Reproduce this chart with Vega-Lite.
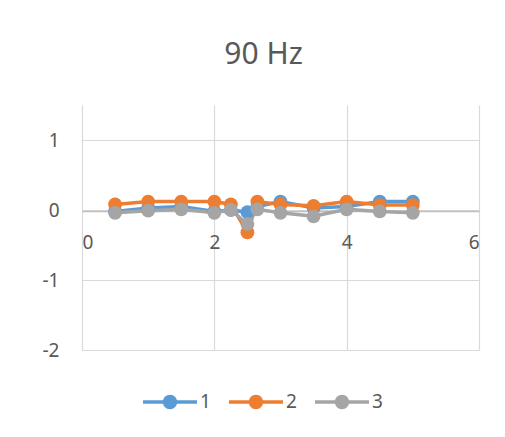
{
  "$schema": "https://vega.github.io/schema/vega-lite/v6.json",
  "width": 397,
  "height": 245,
  "autosize": {"type": "none"},
  "padding": {"left": 82, "top": 105, "right": 26, "bottom": 87},
  "background": "white",
  "title": {"text": "90 Hz", "fontSize": 30, "font": "Noto Sans", "fontWeight": "normal", "color": "#595959", "anchor": "middle", "frame": "group", "dx": -17, "offset": 35},
  "data": {"values": [
    {"s": "1", "x": 0.5, "y": -0.02}, {"s": "1", "x": 1, "y": 0.03}, {"s": "1", "x": 1.5, "y": 0.05}, {"s": "1", "x": 2, "y": -0.02},
    {"s": "1", "x": 2.25, "y": 0.0}, {"s": "1", "x": 2.5, "y": -0.03}, {"s": "1", "x": 2.65, "y": 0.05}, {"s": "1", "x": 3, "y": 0.12},
    {"s": "1", "x": 3.5, "y": 0.03}, {"s": "1", "x": 4, "y": 0.05}, {"s": "1", "x": 4.5, "y": 0.12}, {"s": "1", "x": 5, "y": 0.12},
    {"s": "2", "x": 0.5, "y": 0.08}, {"s": "2", "x": 1, "y": 0.12}, {"s": "2", "x": 1.5, "y": 0.12}, {"s": "2", "x": 2, "y": 0.12},
    {"s": "2", "x": 2.25, "y": 0.08}, {"s": "2", "x": 2.5, "y": -0.32}, {"s": "2", "x": 2.65, "y": 0.12}, {"s": "2", "x": 3, "y": 0.08},
    {"s": "2", "x": 3.5, "y": 0.06}, {"s": "2", "x": 4, "y": 0.12}, {"s": "2", "x": 4.5, "y": 0.07}, {"s": "2", "x": 5, "y": 0.07},
    {"s": "3", "x": 0.5, "y": -0.04}, {"s": "3", "x": 1, "y": -0.01}, {"s": "3", "x": 1.5, "y": 0.01}, {"s": "3", "x": 2, "y": -0.04},
    {"s": "3", "x": 2.25, "y": 0.0}, {"s": "3", "x": 2.5, "y": -0.2}, {"s": "3", "x": 2.65, "y": 0.01}, {"s": "3", "x": 3, "y": -0.04},
    {"s": "3", "x": 3.5, "y": -0.09}, {"s": "3", "x": 4, "y": 0.01}, {"s": "3", "x": 4.5, "y": -0.02}, {"s": "3", "x": 5, "y": -0.04}
  ]},
  "mark": {"type": "line", "strokeWidth": 3.5, "point": {"filled": true, "size": 190, "opacity": 1}},
  "encoding": {
    "x": {"field": "x", "type": "quantitative", "scale": {"domain": [0, 6], "nice": false},
      "axis": {"title": null, "values": [0, 2, 4, 6], "offset": -139, "ticks": false, "labelPadding": 22, "domainColor": "#bfbfbf", "domainWidth": 1.5, "gridColor": "#d9d9d9", "labelFontSize": 19, "labelFont": "Noto Sans", "labelColor": "#595959"}},
    "y": {"field": "y", "type": "quantitative", "scale": {"domain": [-2, 1.5], "nice": false, "zero": false},
      "axis": {"title": null, "values": [-2, -1, 0, 1], "ticks": false, "domain": false, "labelPadding": 23, "labelExpr": "replace(datum.label, '\u2212', '-')", "gridColor": "#d9d9d9", "labelFontSize": 19, "labelFont": "Noto Sans", "labelColor": "#595959"}},
    "color": {"field": "s", "type": "nominal", "scale": {"domain": ["1", "2", "3"], "range": ["#5B9BD5", "#ED7D31", "#A5A5A5"]},
      "legend": {"title": null, "orient": "none", "direction": "horizontal", "legendX": 78, "legendY": 287,
        "symbolType": "M-2.7,-0.17L2.7,-0.17L2.7,0.17L-2.7,0.17Z M-0.72,0A0.72,0.72,0,1,1,0.72,0A0.72,0.72,0,1,1,-0.72,0Z",
        "symbolSize": 400, "symbolStrokeWidth": 0, "symbolOpacity": 1, "labelOffset": 20, "columnPadding": 18,
        "labelFontSize": 19, "labelFont": "Noto Sans", "labelColor": "#595959"}}
  },
  "config": {"view": {"stroke": null}, "axis": {"gridWidth": 1.2}}
}
